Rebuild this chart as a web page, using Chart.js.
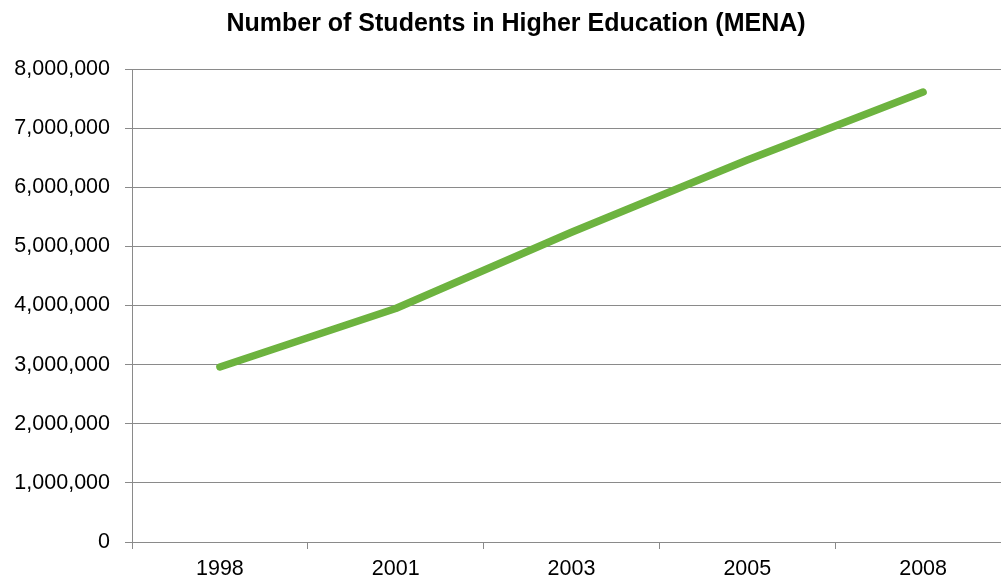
<!DOCTYPE html>
<html>
<head>
<meta charset="utf-8">
<script src="https://cdn.jsdelivr.net/npm/chart.js@4/dist/chart.umd.min.js"></script>
<style>
html,body{margin:0;padding:0;overflow:hidden;background:#fff;}
#wrap{width:1032px;height:578px;position:relative;}
</style>
</head>
<body>
<div id="wrap"><canvas id="c" width="1032" height="578"></canvas></div>
<script>
const categories = ['1998', '2001', '2003', '2005', '2008'];
const students = [2960000, 3950000, 5240000, 6460000, 7610000];
const titleText = 'Number of Students in Higher Education (MENA)';

const gridColor = '#8a8a8a';
const shiftTitle = {
  id: 'shiftTitle',
  afterLayout(chart) {
    const t = chart.titleBlock;
    if (t) { t.left += 10.5; t.right += 10.5; }
  }
};
new Chart(document.getElementById('c'), {
  type: 'line',
  data: {
    labels: categories,
    datasets: [{
      data: students,
      borderColor: '#6db33f',
      backgroundColor: '#6db33f',
      borderWidth: 7.5,
      borderCapStyle: 'round',
      borderJoinStyle: 'round',
      pointRadius: 0,
      tension: 0,
      fill: false
    }]
  },
  plugins: [shiftTitle],
  options: {
    responsive: false,
    animation: false,
    layout: { padding: { left: 0, right: 21, top: 0, bottom: 0 } },
    plugins: {
      legend: { display: false },
      tooltip: { enabled: false },
      title: {
        display: true,
        text: titleText,
        color: '#000',
        font: { family: 'Liberation Sans, Arial, sans-serif', size: 25, weight: 'bold', lineHeight: 1.2 },
        padding: { top: 9, bottom: 30 }
      }
    },
    scales: {
      x: {
        offset: true,
        grid: { offset: true, drawOnChartArea: false, drawTicks: true, tickLength: 7, color: gridColor, lineWidth: 1 },
        border: { display: true, color: gridColor, width: 1 },
        ticks: { color: '#000', padding: 7, font: { family: 'Liberation Sans, Arial, sans-serif', size: 21.5 }, maxRotation: 0 },
        afterFit: s => { s.height = 36; }
      },
      y: {
        min: 0, max: 8000000,
        ticks: {
          stepSize: 1000000,
          color: '#000',
          padding: 15,
          font: { family: 'Liberation Sans, Arial, sans-serif', size: 21.5 },
          callback: v => v.toLocaleString('en-US')
        },
        grid: { color: gridColor, lineWidth: 1, tickLength: 7 },
        border: { display: true, color: gridColor, width: 1 },
        afterFit: s => { s.width = 132; }
      }
    }
  }
});
</script>
</body>
</html>
